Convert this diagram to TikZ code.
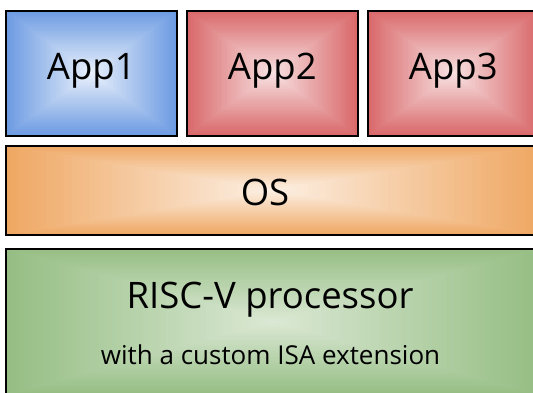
\documentclass[tikz,border=0pt]{standalone}
\usepackage{fontspec}
\setmainfont{Open Sans}
\usetikzlibrary{calc}

\definecolor{appBlue}{HTML}{6C9BE2}
\definecolor{appRed}{HTML}{D9686A}
\definecolor{osOrange}{HTML}{EFA864}
\definecolor{cpuGreen}{HTML}{96BE84}
\colorlet{appBlueLight}{appBlue!15}
\colorlet{appRedLight}{appRed!20}
\colorlet{osOrangeLight}{osOrange!18}
\colorlet{cpuGreenLight}{cpuGreen!35}

\begin{document}
\begin{tikzpicture}[x=1pt,y=-1pt]

            \tikzset{
                layerbox/.style={draw=black, line width=1.6pt, anchor=north west, inner sep=0pt},
                boxshade/.style 2 args={
                    fill=#1,
                    path picture={
                        \foreach \k in {0,...,59}{
                            \pgfmathtruncatemacro\shadepct{100*\k/59}
                            \fill[#2!\shadepct!#1]
                            ($(path picture bounding box.south west)!{\k/120}!(path picture bounding box.north east)$)
                            rectangle
                            ($(path picture bounding box.north east)!{\k/120}!(path picture bounding box.south west)$);
                        }
                    }
                },
                bigtext/.style={anchor=base, font=\fontsize{36.5}{40}\selectfont},
                smalltext/.style={anchor=base, font=\fontsize{26}{30}\selectfont}
            }

            \useasboundingbox (0,0) rectangle (533,392);

            % applications
            \node[layerbox, boxshade={appBlue}{appBlueLight}, minimum width=171pt, minimum height=125pt] (app1) at (5,10) {};
            \node[layerbox, boxshade={appRed}{appRedLight}, minimum width=171pt, minimum height=125pt] (app2) at (186,10) {};
            \node[layerbox, boxshade={appRed}{appRedLight}, minimum width=171pt, minimum height=125pt] (app3) at (367,10) {};

            % operating system
            \node[layerbox, boxshade={osOrange}{osOrangeLight}, minimum width=533pt, minimum height=89pt] (os) at (5,145) {};

            % processor
            \node[layerbox, boxshade={cpuGreen}{cpuGreenLight}, minimum width=533pt, minimum height=146pt] (cpu) at (5,248) {};

            \node[bigtext] (app1text) at ($(app1.center)+(0,6.5)$) {App1};
            \node[bigtext] (app2text) at ($(app2.center)+(0,6.5)$) {App2};
            \node[bigtext] (app3text) at ($(app3.center)+(0,6.5)$) {App3};
            \node[bigtext] (ostext) at (265,205) {OS};
            \node[bigtext] (cputext) at (270,308) {RISC-V processor};
            \node[smalltext] (exttext) at (270.5,364) {with a custom ISA extension};

\end{tikzpicture}
\end{document}
